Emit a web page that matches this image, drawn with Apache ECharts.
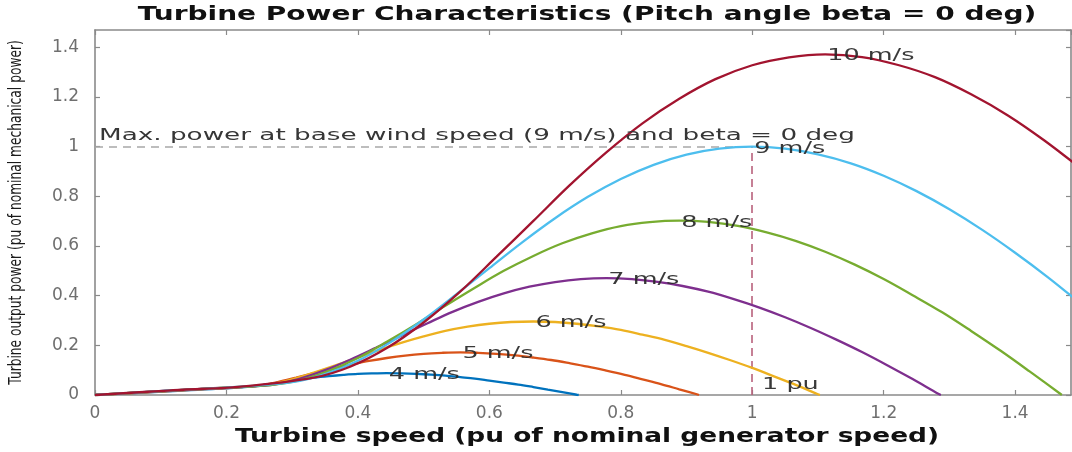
<!DOCTYPE html>
<html>
<head>
<meta charset="utf-8">
<script src="https://cdn.jsdelivr.net/npm/echarts@6/dist/echarts.min.js"></script>
<style>
  html, body { margin: 0; padding: 0; background: #ffffff; }
  #chart { width: 1072px; height: 452px; }
</style>
</head>
<body>
<div id="chart"></div>
<script>
// Turbine output power (pu) against turbine speed (pu), one curve per wind speed.
const wind4 = [[0,0],[0.044,0.006],[0.089,0.012],[0.133,0.018],[0.156,0.021],[0.178,0.024],[0.2,0.027],[0.222,0.031],[0.244,0.036],[0.267,0.045],[0.289,0.054],[0.311,0.063],[0.333,0.070],[0.356,0.076],[0.378,0.081],[0.4,0.085],[0.422,0.087],[0.444,0.088],[0.467,0.087],[0.489,0.085],[0.511,0.082],[0.533,0.078],[0.556,0.072],[0.578,0.066],[0.6,0.058],[0.622,0.050],[0.644,0.042],[0.667,0.032],[0.689,0.022],[0.711,0.012],[0.733,0.001],[0.736,0]];
const wind5 = [[0,0],[0.056,0.008],[0.111,0.016],[0.167,0.024],[0.194,0.027],[0.222,0.032],[0.25,0.038],[0.278,0.052],[0.306,0.070],[0.333,0.088],[0.361,0.106],[0.389,0.122],[0.417,0.137],[0.444,0.149],[0.472,0.159],[0.5,0.166],[0.528,0.170],[0.556,0.172],[0.583,0.170],[0.611,0.166],[0.639,0.160],[0.667,0.151],[0.694,0.141],[0.722,0.128],[0.75,0.114],[0.778,0.098],[0.806,0.081],[0.833,0.063],[0.861,0.044],[0.889,0.023],[0.917,0.002],[0.919,0]];
const wind6 = [[0,0],[0.067,0.010],[0.133,0.020],[0.2,0.030],[0.233,0.035],[0.267,0.043],[0.3,0.063],[0.333,0.090],[0.367,0.120],[0.4,0.151],[0.433,0.182],[0.467,0.211],[0.5,0.236],[0.533,0.258],[0.567,0.275],[0.6,0.287],[0.633,0.294],[0.667,0.296],[0.7,0.294],[0.733,0.287],[0.767,0.276],[0.8,0.262],[0.833,0.243],[0.867,0.222],[0.9,0.197],[0.933,0.170],[0.967,0.140],[1.0,0.109],[1.033,0.075],[1.067,0.040],[1.1,0.003],[1.103,0]];
const wind7 = [[0,0],[0.078,0.012],[0.156,0.024],[0.233,0.034],[0.272,0.042],[0.311,0.065],[0.35,0.100],[0.389,0.143],[0.428,0.191],[0.467,0.240],[0.506,0.289],[0.544,0.335],[0.583,0.375],[0.622,0.409],[0.661,0.436],[0.7,0.455],[0.739,0.467],[0.778,0.471],[0.817,0.467],[0.856,0.456],[0.894,0.439],[0.933,0.416],[0.972,0.386],[1.011,0.352],[1.05,0.313],[1.089,0.270],[1.128,0.223],[1.167,0.173],[1.206,0.119],[1.244,0.064],[1.283,0.005],[1.287,0]];
const wind8 = [[0,0],[0.089,0.014],[0.178,0.027],[0.267,0.040],[0.311,0.059],[0.356,0.097],[0.4,0.149],[0.444,0.214],[0.489,0.285],[0.533,0.359],[0.578,0.432],[0.622,0.500],[0.667,0.560],[0.711,0.611],[0.756,0.651],[0.8,0.680],[0.844,0.696],[0.889,0.702],[0.933,0.697],[0.978,0.681],[1.022,0.655],[1.067,0.620],[1.111,0.577],[1.156,0.525],[1.2,0.467],[1.244,0.402],[1.289,0.333],[1.333,0.258],[1.378,0.178],[1.422,0.095],[1.467,0.008],[1.471,0]];
const wind9 = [[0,0],[0.1,0.016],[0.2,0.030],[0.3,0.052],[0.35,0.084],[0.4,0.138],[0.45,0.213],[0.5,0.304],[0.55,0.406],[0.6,0.511],[0.65,0.615],[0.7,0.712],[0.75,0.798],[0.8,0.870],[0.85,0.927],[0.9,0.968],[0.95,0.992],[1.0,1.0],[1.05,0.992],[1.1,0.969],[1.15,0.933],[1.2,0.883],[1.25,0.821],[1.3,0.748],[1.35,0.665],[1.4,0.573],[1.45,0.474],[1.5,0.367]];
const wind10 = [[0,0],[0.111,0.018],[0.222,0.034],[0.333,0.070],[0.389,0.115],[0.444,0.189],[0.5,0.292],[0.556,0.417],[0.611,0.557],[0.667,0.701],[0.722,0.844],[0.778,0.977],[0.833,1.094],[0.889,1.193],[0.944,1.272],[1.0,1.328],[1.056,1.360],[1.111,1.372],[1.167,1.361],[1.222,1.329],[1.278,1.280],[1.333,1.211],[1.389,1.126],[1.444,1.026],[1.5,0.912]];

const windCurves = [wind4, wind5, wind6, wind7, wind8, wind9, wind10];
const windLabels = ['4 m/s', '5 m/s', '6 m/s', '7 m/s', '8 m/s', '9 m/s', '10 m/s'];
const windColors = ['#0072BD', '#D95319', '#EDB120', '#7E2F8E', '#77AC30', '#4DBEEE', '#A2142F'];

// Axis ranges and tick step
const xRange = [0, 1.485];
const yRange = [0, 1.47];
const tickStep = 0.2;

// Rated operating point (1 pu speed, 1 pu power) and annotations
const ratedPoint = [1, 1];
const titleText = 'Turbine Power Characteristics (Pitch angle beta = 0 deg)';
const xName = 'Turbine speed (pu of nominal generator speed)';
const yName = 'Turbine output power (pu of nominal mechanical power)';
const noteText = 'Max. power at base wind speed (9 m/s) and beta = 0 deg';
const notePos = [0, 1.045];
const onePuText = '1 pu';
const onePuPos = [1.015, 0.04];

const FONT = '"DejaVu Sans", "Liberation Sans", sans-serif';
const axisGray = '#8a8a8a';
const labelInk = 'rgba(40,40,40,0.92)';

const chart = echarts.init(document.getElementById('chart'), null, { renderer: 'canvas' });

const frameAxis = (extra) => Object.assign({
  type: 'value',
  axisLine: { show: true, onZero: false, lineStyle: { color: axisGray, width: 1.6 } },
  axisTick: { show: true, inside: true, length: 5, lineStyle: { color: axisGray, width: 1.2 } },
  splitLine: { show: false }
}, extra);

const series = windCurves.map((data, i) => ({
  type: 'line',
  name: windLabels[i],
  data: data,
  xAxisIndex: 0,
  yAxisIndex: 0,
  showSymbol: false,
  smooth: 0.35,
  lineStyle: { color: windColors[i], width: 2.3 },
  itemStyle: { color: windColors[i] },
  z: 3 + i,
  silent: true
}));

// Dashed guides at rated speed and rated power
series.unshift({
  type: 'line',
  data: [],
  xAxisIndex: 0,
  yAxisIndex: 0,
  silent: true,
  z: 2,
  markLine: {
    silent: true,
    symbol: ['none', 'none'],
    label: { show: false },
    animation: false,
    data: [
      [{ coord: [xRange[0], ratedPoint[1]], lineStyle: { color: '#a8a8a8', type: [8, 6], width: 1.5 } },
       { coord: [ratedPoint[0], ratedPoint[1]] }],
      [{ coord: [ratedPoint[0], yRange[0]], lineStyle: { color: '#b8617c', type: [8, 5], width: 1.6 } },
       { coord: [ratedPoint[0], ratedPoint[1]] }]
    ]
  }
});

const tickLabel = { color: '#6f6f6f', fontFamily: FONT, fontSize: 17, showMaxLabel: false };

chart.setOption({
  animation: false,
  backgroundColor: '#ffffff',
  grid: { left: 95, right: 1, top: 30, bottom: 57, containLabel: false },
  xAxis: [
    frameAxis({ min: xRange[0], max: xRange[1], interval: tickStep, position: 'bottom',
      axisLabel: Object.assign({ margin: 10 }, tickLabel) }),
    frameAxis({ min: xRange[0], max: xRange[1], interval: tickStep, position: 'top',
      axisLabel: { show: false } })
  ],
  yAxis: [
    frameAxis({ min: yRange[0], max: yRange[1], interval: tickStep, position: 'left',
      axisLabel: Object.assign({ margin: 16 }, tickLabel) }),
    frameAxis({ min: yRange[0], max: yRange[1], interval: tickStep, position: 'right',
      axisLabel: { show: false } })
  ],
  series: series
});

// Texts drawn as graphics so they can be widened to the plot's lettering
const toPx = (p) => chart.convertToPixel({ xAxisIndex: 0, yAxisIndex: 0 }, p);
const textEl = (text, x, y, font, fill, opts) => Object.assign({
  type: 'text',
  x: x,
  y: y,
  silent: true,
  z: 100,
  style: { text: text, x: 0, y: 0, font: font, fill: fill, align: 'left', verticalAlign: 'middle' }
}, opts || {});

const graphics = [];
const gridLeft = toPx([xRange[0], yRange[0]]);
const gridRight = toPx([xRange[1], yRange[1]]);
const centerX = 587;

// Title
graphics.push(textEl(titleText, centerX, 15, 'bold 20px ' + FONT, '#111111',
  { scaleX: 1.40, style: { text: titleText, x: 0, y: 0, font: 'bold 20px ' + FONT, fill: '#111111', align: 'center', verticalAlign: 'middle' } }));
// X axis name
graphics.push(textEl(xName, centerX, 437, 'bold 20px ' + FONT, '#111111',
  { scaleX: 1.32, style: { text: xName, x: 0, y: 0, font: 'bold 20px ' + FONT, fill: '#111111', align: 'center', verticalAlign: 'middle' } }));
// Y axis name (rotated)
graphics.push(textEl(yName, gridLeft[0] - 78, (gridLeft[1] + gridRight[1]) / 2, '12px ' + FONT, '#1a1a1a',
  { rotation: Math.PI / 2, scaleX: 1.02, scaleY: 1.4,
    style: { text: yName, x: 0, y: 0, font: '12px ' + FONT, fill: '#1a1a1a', align: 'center', verticalAlign: 'middle' } }));

// Rated power note
const np = toPx(notePos);
graphics.push(textEl(noteText, np[0] + 4, np[1], '16px ' + FONT, '#363636', { scaleX: 1.64 }));

// Wind speed labels at each curve's maximum
windCurves.forEach((data, i) => {
  const peak = data.reduce((a, b) => (b[1] > a[1] ? b : a));
  const p = toPx(peak);
  graphics.push(textEl(windLabels[i], p[0] + 2, p[1] + 2, '15px ' + FONT, labelInk, { scaleX: 1.7 }));
});

// 1 pu marker
const op = toPx(onePuPos);
graphics.push(textEl(onePuText, op[0], op[1], '15px ' + FONT, labelInk, { scaleX: 1.7 }));

chart.setOption({ graphic: { elements: graphics } });
</script>
</body>
</html>
